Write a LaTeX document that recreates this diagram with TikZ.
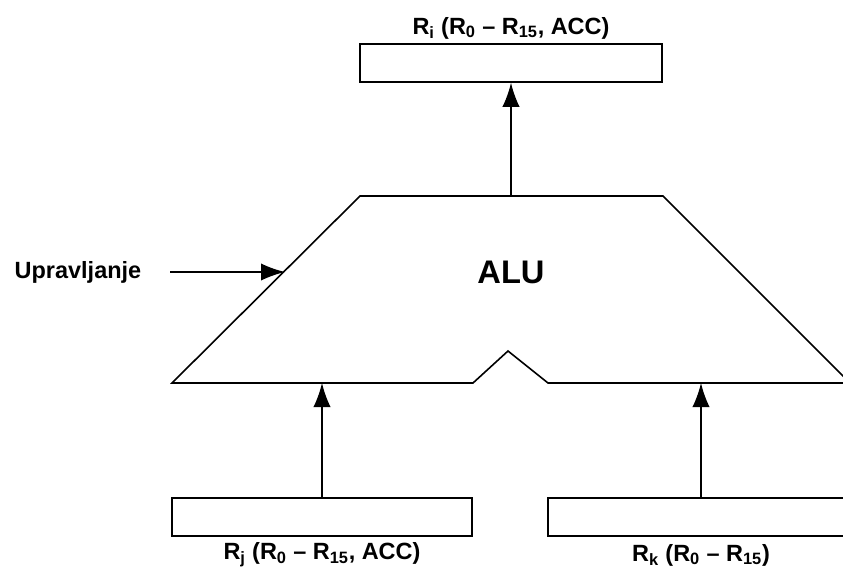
\documentclass[tikz,border=0pt]{standalone}
\usepackage{fontspec}
\setmainfont{Liberation Sans}
\usetikzlibrary{arrows.meta}
\begin{document}
\begin{tikzpicture}[x=0.75pt, y=-0.75pt,
    every node/.style={font=\fontsize{17.6}{20}\selectfont\bfseries},
    reg/.style={draw, rectangle, line width=1.2pt, inner sep=0pt, minimum height=38*0.75pt},
    flow/.style={-{Latex[length=18pt,width=13pt]}, line width=1.2pt}]
    \useasboundingbox (0,0) rectangle (843,567);
    \clip (0,0) rectangle (843,567);

    % registers
    \node[reg, minimum width=302*0.75pt] (out) at (511,63) {};
    \node[reg, minimum width=300*0.75pt] (inj) at (322,517) {};
    \node[reg, minimum width=306*0.75pt] (ink) at (701,517) {};

    \node (outlbl) at (511,28) {R\textsubscript{i} (R\textsubscript{0} -- R\textsubscript{15}, ACC)};
    \node (injlbl) at (322,555) {R\textsubscript{j} (R\textsubscript{0} -- R\textsubscript{15}, ACC)};
    \node (inklbl) at (701,555) {R\textsubscript{k} (R\textsubscript{0} -- R\textsubscript{15})};

    % ALU
    \draw[line width=1.2pt] (172,383) -- (360,196) -- (663,196) -- (850,383)
        -- (548,383) -- (508,351) -- (473,383) -- cycle;
    \node[font=\fontsize{24.5}{28}\selectfont\bfseries] (alu) at (511,272) {ALU};
    \coordinate (alutop) at (511,196);
    \coordinate (alubl) at (322,383);
    \coordinate (alubr) at (701,383);
    \coordinate (aluleft) at (285,272);

    \node[anchor=west] (ctl) at (10,272) {Upravljanje};
    \coordinate (ctlstart) at (170,272);

    \draw[flow] (alutop) -- (out.south);
    \draw[flow] (inj.north) -- (alubl);
    \draw[flow] (ink.north) -- (alubr);
    \draw[flow] (ctlstart) -- (aluleft);
\end{tikzpicture}
\end{document}
